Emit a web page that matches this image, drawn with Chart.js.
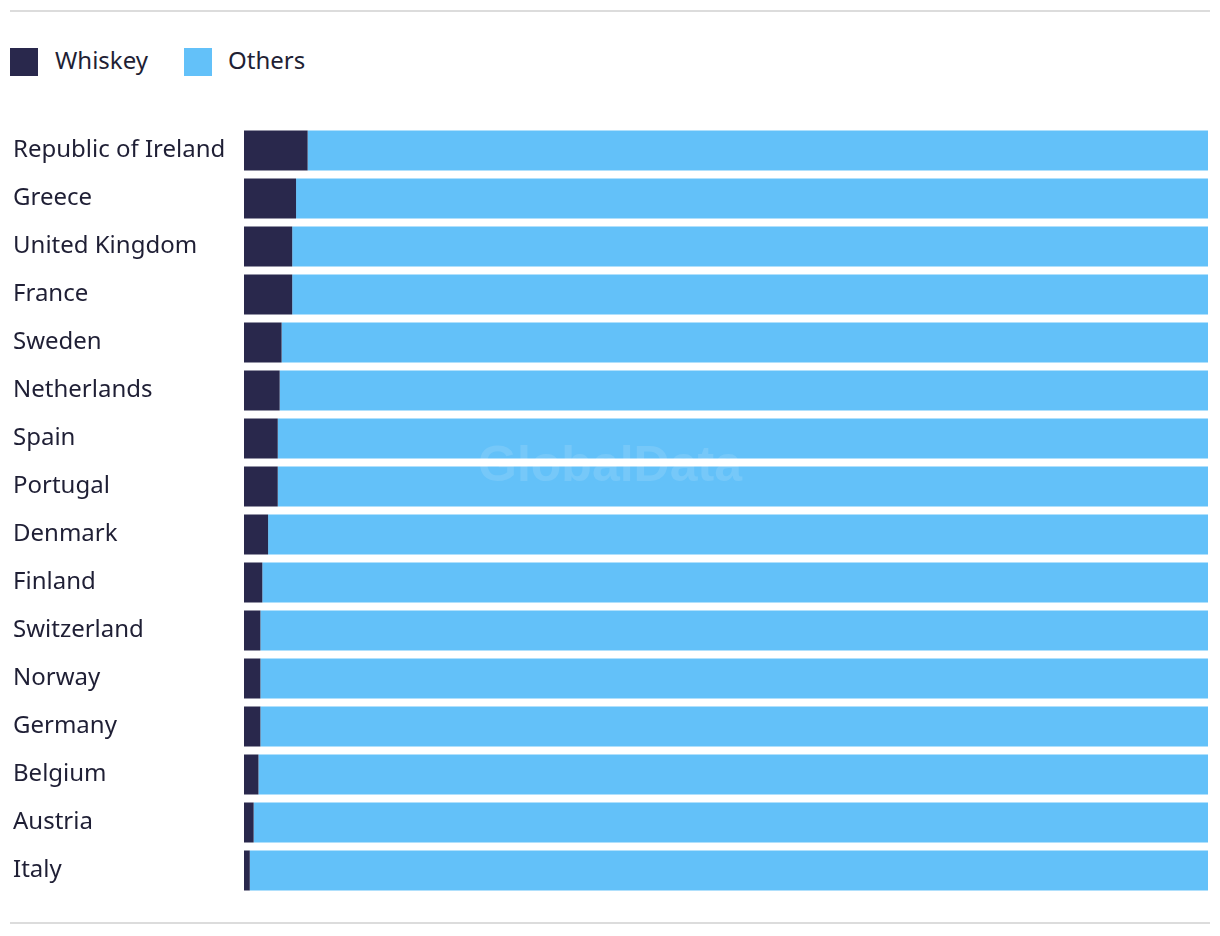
<!DOCTYPE html>
<html>
<head>
<meta charset="utf-8">
<script src="https://cdn.jsdelivr.net/npm/chart.js@4.4.0/dist/chart.umd.min.js"></script>
<style>
  html, body { margin: 0; padding: 0; background: #fff; }
  body { width: 1220px; height: 936px; position: relative; overflow: hidden;
         font-family: "Noto Sans", Lato, sans-serif; color: #1f1f35; }
  .rule { position: absolute; left: 10px; width: 1200px; height: 2px; background: #dcdcdc; }
  #legend { position: absolute; left: 10px; top: 48px; height: 28px; }
  .item { position: absolute; top: 0; height: 28px; white-space: nowrap; }
  .swatch { position: absolute; left: 0; top: 0; width: 28px; height: 28px; }
  .item span { position: absolute; top: -3px; font-size: 24px; line-height: 30px; }
  #wrap { position: absolute; left: 10px; top: 108.6px; width: 1200px; height: 802.8px; }
</style>
</head>
<body>
<div class="rule" style="top:10px"></div>
<div id="legend"></div>
<div id="wrap"><canvas id="chart"></canvas></div>
<div class="rule" style="top:922px"></div>
<script>
// Whiskey share of spirits volume, %
const countries = ['Republic of Ireland', 'Greece', 'United Kingdom', 'France', 'Sweden', 'Netherlands',
  'Spain', 'Portugal', 'Denmark', 'Finland', 'Switzerland', 'Norway', 'Germany', 'Belgium', 'Austria', 'Italy'];
const whiskey = [6.6, 5.4, 5.0, 5.0, 3.9, 3.7, 3.5, 3.5, 2.5, 1.9, 1.7, 1.7, 1.7, 1.5, 1.0, 0.6];
const others = [93.4, 94.6, 95.0, 95.0, 96.1, 96.3, 96.5, 96.5, 97.5, 98.1, 98.3, 98.3, 98.3, 98.5, 99.0, 99.4];

const seriesNames = ['Whiskey', 'Others'];
const seriesColors = ['#29284c', '#63c1f9'];

const FONT = '"Noto Sans", Lato, sans-serif';
const TEXT = '#1f1f35';

// Faint watermark in the middle of the plot
const watermark = {
    id: 'watermark',
    afterDatasetsDraw(chart) {
        const {ctx, chartArea} = chart;
        ctx.save();
        ctx.font = 'bold 50px "Liberation Sans", Arial, sans-serif';
        ctx.fillStyle = 'rgba(255,255,255,0.12)';
        ctx.textAlign = 'center';
        ctx.textBaseline = 'middle';
        ctx.fillText('GlobalData', (chartArea.left + chartArea.right) / 2 - 116,
            (chartArea.top + chartArea.bottom) / 2 - 43);
        ctx.restore();
    }
};

// Legend drawn as html above the chart
function buildLegend() {
    const legend = document.getElementById('legend');
    const offsets = [0, 174];
    seriesNames.forEach((name, i) => {
        const item = document.createElement('div');
        item.className = 'item';
        item.style.left = offsets[i] + 'px';
        item.innerHTML = '<div class="swatch" style="background:' + seriesColors[i] + '"></div>' +
            '<span style="left:' + (i === 0 ? 45 : 44) + 'px">' + name + '</span>';
        legend.appendChild(item);
    });
}

function drawChart() {
    const ctx = document.getElementById('chart').getContext('2d');
    new Chart(ctx, {
        type: 'bar',
        data: {
            labels: countries,
            datasets: [{
                label: seriesNames[0],
                data: whiskey,
                backgroundColor: seriesColors[0],
                barPercentage: 1,
                categoryPercentage: 40 / 48
            }, {
                label: seriesNames[1],
                data: others,
                backgroundColor: seriesColors[1],
                barPercentage: 1,
                categoryPercentage: 40 / 48
            }]
        },
        options: {
            indexAxis: 'y',
            responsive: true,
            maintainAspectRatio: false,
            animation: false,
            layout: { padding: { left: 3, right: 2, top: 0, bottom: 0 } },
            plugins: {
                tooltip: { enabled: false },
                legend: { display: false }
            },
            scales: {
                x: {
                    stacked: true,
                    min: 0,
                    max: 100,
                    display: false
                },
                y: {
                    stacked: true,
                    grid: { display: false },
                    border: { display: false },
                    afterFit(scale) { scale.width = 231; },
                    ticks: {
                        crossAlign: 'far',
                        color: TEXT,
                        font: { family: FONT, size: 24 }
                    }
                }
            }
        },
        plugins: [watermark]
    });
}

document.addEventListener('DOMContentLoaded', function() {
    buildLegend();
    drawChart();
});
</script>
</body>
</html>
